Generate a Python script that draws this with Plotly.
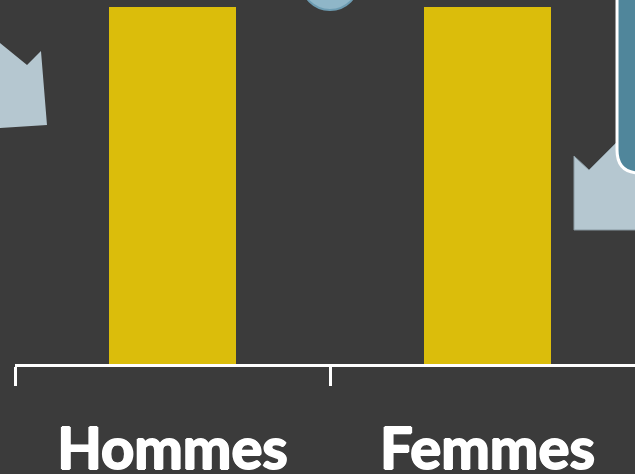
import plotly.graph_objects as go

categories = ["Hommes", "Femmes"]
values = [50, 50]

BG = "#3b3b3b"
BAR = "#dbbd0b"
ARROW = "#b5c7d0"
RECT = "#50869b"

W, H = 635, 474
ML, MR, MT, MB = 15, 0, 7, 110
PW = W - ML - MR
PH = H - MT - MB


def px(x):
    return (x - ML) / PW


def py(y):
    return (H - MB - y) / PH


def path(pts):
    return "M " + " L ".join(f"{px(a):.4f},{py(b):.4f}" for a, b in pts) + " Z"


fig = go.Figure(
    go.Bar(x=categories, y=values, marker=dict(color=BAR, line=dict(width=0)), width=0.403,
           hoverinfo="skip")
)

shapes = [
    dict(type="path", path=path([(0, 43), (27, 65), (41, 51), (47, 125), (0, 128)]),
         xref="paper", yref="paper", fillcolor=ARROW, line=dict(width=0)),
    dict(type="path", path=path([(574, 156), (589, 170), (640, 119), (640, 230), (574, 230)]),
         xref="paper", yref="paper", fillcolor=ARROW, line=dict(color="#8a9aa2", width=1)),
    # rounded rectangle (top right)
    dict(type="path",
         path=(f"M {px(617):.4f},{py(-20):.4f} L {px(617):.4f},{py(150):.4f} "
               f"Q {px(617):.4f},{py(173):.4f} {px(640):.4f},{py(173):.4f} "
               f"L {px(660):.4f},{py(173):.4f} L {px(660):.4f},{py(-20):.4f} Z"),
         xref="paper", yref="paper", fillcolor=RECT, line=dict(color="white", width=3)),
    # circle at top
    dict(type="circle", xref="paper", yref="paper",
         x0=px(301), x1=px(359), y0=py(10), y1=py(-48),
         fillcolor="#8fb6c8", line=dict(color="#6d9cb2", width=2)),
]

fig.update_layout(
    width=W, height=H,
    margin=dict(l=ML, r=MR, t=MT, b=MB, pad=0, autoexpand=False),
    paper_bgcolor=BG, plot_bgcolor=BG,
    showlegend=False,
    shapes=shapes,
    bargap=0,
)
fig.update_xaxes(
    range=[-0.5, -0.5 + PW / 315],
    automargin=False,
    showline=True, linecolor="white", linewidth=3,
    ticks="outside", tickson="boundaries", ticklen=19, tickwidth=3, tickcolor="white",
    ticklabelstandoff=32,
    tickfont=dict(family="Lato", size=58, color="white", weight="bold",
                  shadow="1px 0 0 white, -1px 0 0 white, 0 1px 0 white, 0 -1px 0 white"),
    showgrid=False, zeroline=False, fixedrange=True,
)
fig.update_yaxes(range=[0, 50], visible=False, showgrid=False, fixedrange=True,
                 automargin=False)

fig.write_html(
    "out.html",
    config=dict(displayModeBar=False),
    post_script="document.body.style.margin='0';document.body.style.overflow='hidden';"
                "document.body.style.background='#3b3b3b';",
)
